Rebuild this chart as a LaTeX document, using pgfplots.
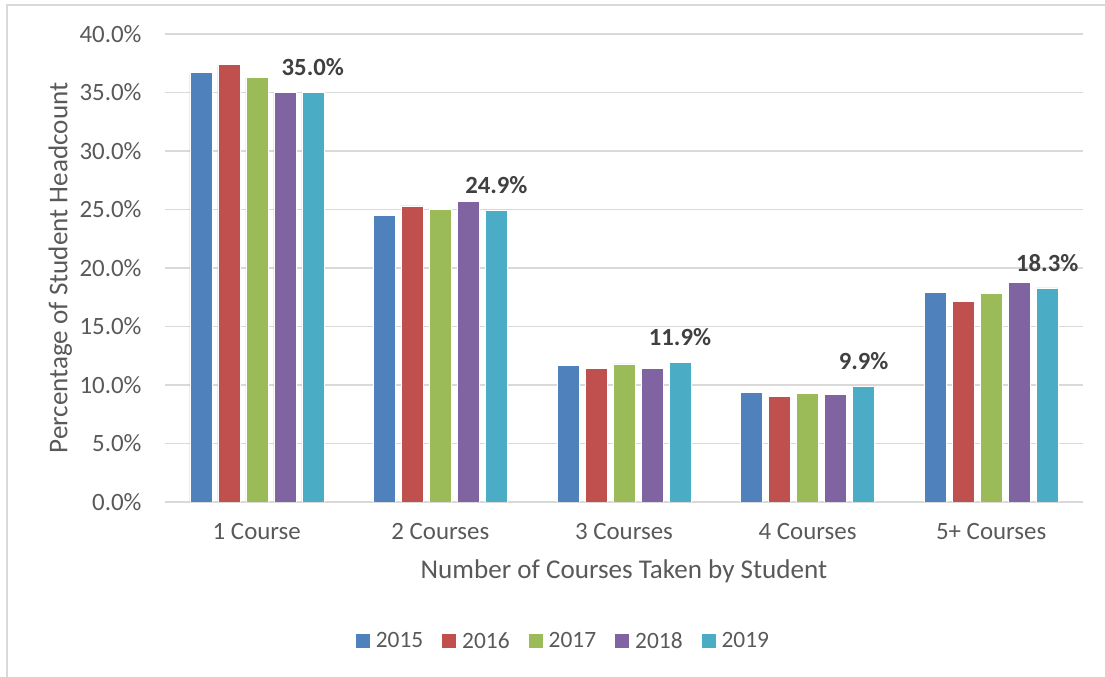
\documentclass[border=0pt]{standalone}
\usepackage{pgfplots}
\pgfplotsset{compat=1.18}
\usepackage{fontspec}
\setmainfont{Carlito}
\definecolor{c15}{HTML}{4F81BD}
\definecolor{c16}{HTML}{C0504D}
\definecolor{c17}{HTML}{9BBB59}
\definecolor{c18}{HTML}{8064A2}
\definecolor{c19}{HTML}{4BACC6}
\definecolor{txt}{HTML}{595959}
\definecolor{lbl}{HTML}{404040}
\definecolor{gridc}{HTML}{D9D9D9}
\begin{document}
\begin{tikzpicture}[x=1bp,y=1bp]
\path[use as bounding box] (0,0) rectangle (1105,677);
\draw[gridc,line width=2bp] (7,0) -- (7,672) -- (1105,672);
\begin{axis}[
  at={(165bp,175bp)}, anchor=south west,
  scale only axis, width=918bp, height=468bp,
  ybar=6bp, bar width=22bp,
  xmin=-0.5, xmax=4.5, ymin=0, ymax=40,
  xtick={0,1,2,3,4},
  xticklabels={1 Course,2 Courses,3 Courses,4 Courses,5+ Courses},
  ytick={0,5,...,40},
  yticklabel={\pgfmathprintnumber[fixed,fixed zerofill,precision=1]{\tick}\%},
  /pgf/number format/assume math mode=true,
  major tick length=0pt,
  axis line style={draw=none},
  xmajorgrids=false, ymajorgrids=true,
  major grid style={draw=gridc,line width=1.5bp},
  ticklabel style={font=\fontsize{25}{29}\selectfont, text=txt},
  yticklabel style={xshift=-20bp},
  xticklabel style={yshift=-18bp},
  xlabel={Number of Courses Taken by Student},
  ylabel={Percentage of Student Headcount},
  every axis x label/.style={at={(axis description cs:0.5,-0.147)}, anchor=center,
     font=\fontsize{27.2}{31}\selectfont, text=txt},
  every axis y label/.style={at={(axis description cs:-0.114,0.5)}, anchor=center, rotate=90,
     font=\fontsize{27.2}{31}\selectfont, text=txt},
  legend style={at={(axis description cs:0.434,-0.297)}, anchor=center, draw=none, fill=none,
    font=\fontsize{23.5}{27}\selectfont, text=txt, legend columns=-1,
    /tikz/every even column/.append style={column sep=17bp},
    /tikz/every odd column/.append style={column sep=4bp}},
  legend image code/.code={\fill[#1,draw=none] (0bp,-7bp) rectangle (14bp,7bp);},
  every axis plot/.append style={draw=white, line width=0.6bp},
]
\addplot[fill=c15] coordinates {(0,36.7) (1,24.5) (2,11.7) (3,9.4) (4,17.9)};
\addplot[fill=c16] coordinates {(0,37.4) (1,25.3) (2,11.4) (3,9.0) (4,17.15)};
\addplot[fill=c17] coordinates {(0,36.3) (1,25.0) (2,11.8) (3,9.3) (4,17.8)};
\addplot[fill=c18] coordinates {(0,35.0) (1,25.7) (2,11.4) (3,9.2) (4,18.8)};
\addplot[fill=c19, nodes near coords={\pgfmathprintnumber[fixed,fixed zerofill,precision=1]{\pgfplotspointmeta}\%},
  nodes near coords style={font=\bfseries\fontsize{24.8}{28}\selectfont, text=lbl, anchor=south, yshift=13bp},
  point meta=explicit symbolic] coordinates {(0,35.0) [35.0] (1,24.9) [24.9] (2,11.9) [11.9] (3,9.9) [9.9] (4,18.3) [18.3]};
\legend{2015,2016,2017,2018,2019}
\end{axis}
\end{tikzpicture}
\end{document}
